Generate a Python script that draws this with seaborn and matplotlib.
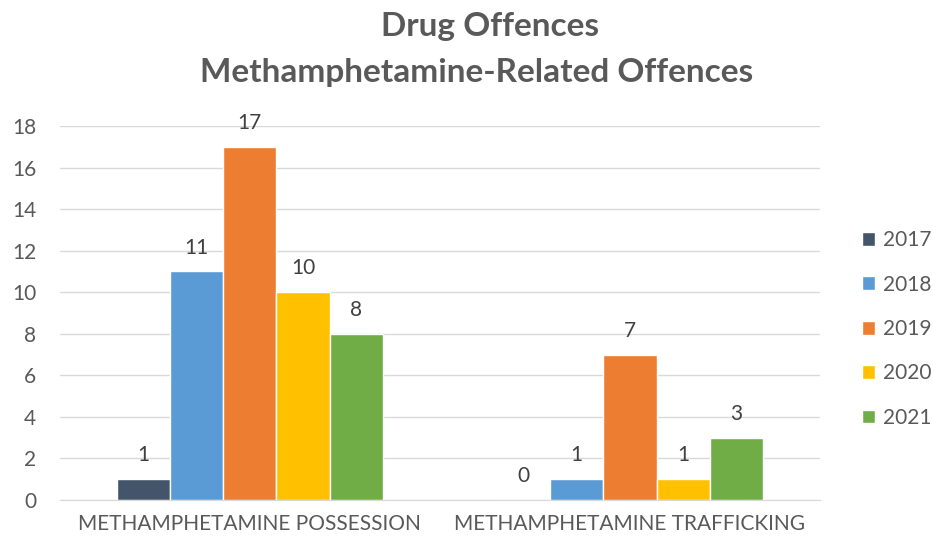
import matplotlib
matplotlib.use("Agg")
import matplotlib.pyplot as plt
import seaborn as sns
import pandas as pd

# data
categories = ["METHAMPHETAMINE POSSESSION", "METHAMPHETAMINE TRAFFICKING"]
years = ["2017", "2018", "2019", "2020", "2021"]
possession = [1, 11, 17, 10, 8]
trafficking = [0, 1, 7, 1, 3]
colors = ["#44546A", "#5B9BD5", "#ED7D31", "#FFC000", "#70AD47"]

rows = []
for i, y in enumerate(years):
    rows.append({"category": categories[0], "year": y, "value": possession[i]})
    rows.append({"category": categories[1], "year": y, "value": trafficking[i]})
df = pd.DataFrame(rows)

sns.set_style("white")
plt.rcParams["font.family"] = ["Lato", "DejaVu Sans"]
grey = "#595959"

fig = plt.figure(figsize=(9.33, 5.42), dpi=100)
ax = fig.add_axes([0.064, 0.0775, 0.815, 0.69])

sns.barplot(data=df, x="category", y="value", hue="year", hue_order=years,
            palette=colors, width=0.7, gap=0, saturation=1, ax=ax, errorbar=None)

for cont in ax.containers:
    ax.bar_label(cont, padding=10, fontsize=15, color="#404040")

ax.set_ylim(0, 18)
ax.set_yticks(range(0, 19, 2))
ax.yaxis.grid(True, color="#D9D9D9", linewidth=1)
ax.set_axisbelow(True)
ax.set_xlabel("")
ax.set_ylabel("")
for s in ["top", "right", "left"]:
    ax.spines[s].set_visible(False)
ax.spines["bottom"].set_color("#D9D9D9")
ax.tick_params(axis="y", length=0, labelsize=15, colors=grey, pad=17)
ax.tick_params(axis="x", length=0, labelsize=15, colors=grey, pad=10)

leg = ax.legend(loc="center left", bbox_to_anchor=(1.055, 0.457), frameon=False,
                fontsize=15, labelspacing=1.17, handlelength=0.65, handleheight=0.65,
                handletextpad=0.35, borderpad=0, borderaxespad=0)
for t in leg.get_texts():
    t.set_color(grey)

fig.text(0.525, 0.952, "Drug Offences", ha="center", va="center",
         fontsize=24, fontweight="bold", color=grey)
fig.text(0.511, 0.866, "Methamphetamine-Related Offences", ha="center", va="center",
         fontsize=24, fontweight="bold", color=grey)

fig.savefig("out.png", dpi=100)
